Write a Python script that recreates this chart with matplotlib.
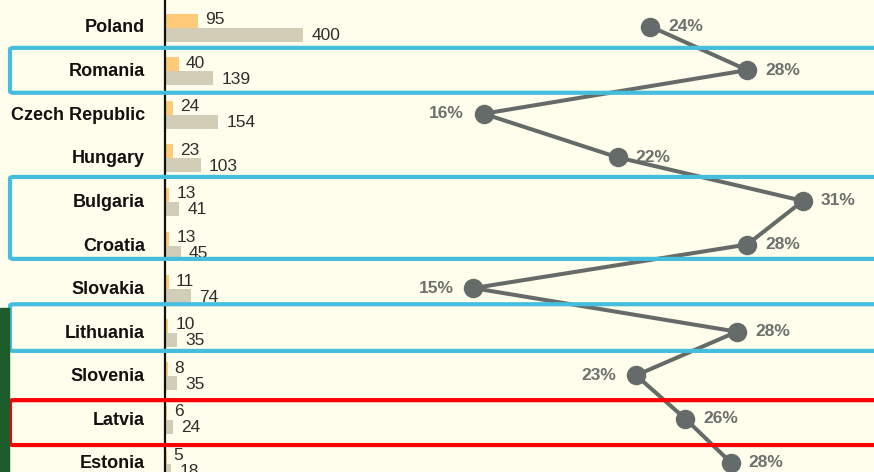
"""
Smaller EU members: two bar series per country plus the share line,
with hand-drawn highlight boxes around selected rows.
"""

import matplotlib
matplotlib.use("Agg")
import matplotlib.pyplot as plt
from matplotlib.patches import FancyBboxPatch, Rectangle


# =============================================================================
# Data
# =============================================================================
COUNTRIES = [
    "Poland", "Romania", "Czech Republic", "Hungary", "Bulgaria", "Croatia",
    "Slovakia", "Lithuania", "Slovenia", "Latvia", "Estonia",
]
VALUE_A = [95, 40, 24, 23, 13, 13, 11, 10, 8, 6, 5]           # orange bars
VALUE_B = [400, 139, 154, 103, 41, 45, 74, 35, 35, 24, 18]     # beige bars
SHARE = [23.6, 28.3, 15.5, 22.0, 31.0, 28.3, 15.0, 27.8, 22.9, 25.3, 27.5]
SHARE_LABELS = ["24%", "28%", "16%", "22%", "31%", "28%",
                "15%", "28%", "23%", "26%", "28%"]

# highlighted rows: (first, last, colour)
HIGHLIGHTS = [
    ("Romania", "Romania", "#45BEDD"),
    ("Bulgaria", "Croatia", "#45BEDD"),
    ("Lithuania", "Lithuania", "#45BEDD"),
    ("Latvia", "Latvia", "#FF0000"),
]

# =============================================================================
# Style / layout
# =============================================================================
W, H, DPI = 874, 472, 100
BG = "#FFFDEC"
C_A = "#FFCB7A"
C_B = "#D2CDB6"
C_LINE = "#646B68"
C_PCT = "#6C716F"
C_TXT = "#2E2E2E"
FONT = "Liberation Sans"

ROW0_PX, ROW_PX = 26.5, 43.6            # first row centre / row pitch (pixels)
AXIS_PX, BAR_PX_PER_UNIT = 165.0, 0.345
LINE_REF_PX, LINE_REF_VAL, LINE_PX_PER_PCT = 473.3, 15.0, 20.6
BOX_PAD = [(0.51, 0.52), (0.55, 0.33), (0.63, 0.44), (0.43, 0.60)]


def main() -> None:
    plt.rcParams["font.family"] = FONT
    fig = plt.figure(figsize=(W / DPI, H / DPI), dpi=DPI, facecolor=BG)

    ax = fig.add_axes([0, 0, 1, 1])
    ax.set_facecolor(BG)
    ax.set_xlim(-AXIS_PX / BAR_PX_PER_UNIT, (W - AXIS_PX) / BAR_PX_PER_UNIT)
    ax.set_ylim((H - ROW0_PX) / ROW_PX, -ROW0_PX / ROW_PX)
    ax.axis("off")

    rows = list(range(len(COUNTRIES)))
    h = 14 / ROW_PX
    off_a, off_b = -6 / ROW_PX, 8 / ROW_PX

    ax.barh([r + off_a for r in rows], VALUE_A, height=h, color=C_A, zorder=2)
    ax.barh([r + off_b for r in rows], VALUE_B, height=h, color=C_B, zorder=2)
    ax.axvline(0, color="#111111", lw=1.6, zorder=3)

    for r, a, b in zip(rows, VALUE_A, VALUE_B):
        ax.annotate(str(a), (a, r + off_a - 1 / ROW_PX), xytext=(5, 0),
                    textcoords="offset points", va="center", ha="left",
                    fontsize=12.5, color=C_TXT)
        ax.annotate(str(b), (b, r + off_b + 1 / ROW_PX), xytext=(6, 0),
                    textcoords="offset points", va="center", ha="left",
                    fontsize=12.5, color=C_TXT)

    ytr = ax.get_yaxis_transform()
    for r, name in zip(rows, COUNTRIES):
        ax.text(145 / W, r + 1.5 / ROW_PX, name, transform=ytr, ha="right",
                va="center", fontsize=13, fontweight="bold", color="#111111")

    # share line on its own x scale
    axl = ax.twiny()
    axl.set_xlim(LINE_REF_VAL - LINE_REF_PX / LINE_PX_PER_PCT,
                 LINE_REF_VAL + (W - LINE_REF_PX) / LINE_PX_PER_PCT)
    axl.axis("off")
    axl.plot(SHARE, rows, "-o", color=C_LINE, lw=2.9, ms=13, zorder=4,
             solid_capstyle="round")

    n = len(SHARE)
    for i, (v, lab) in enumerate(zip(SHARE, SHARE_LABELS)):
        left = 0 < i < n - 1 and v < SHARE[i - 1] and v < SHARE[i + 1]
        axl.annotate(lab, (v, rows[i]), xytext=(-14 if left else 13, 0),
                     textcoords="offset points", va="center",
                     ha="right" if left else "left", fontsize=12.5,
                     fontweight="bold", color=C_PCT)

    # highlight boxes
    ltr = axl.get_yaxis_transform()
    for (first, last, col), (pt, pb) in zip(HIGHLIGHTS, BOX_PAD):
        r0 = COUNTRIES.index(first) - pt
        r1 = COUNTRIES.index(last) + pb
        box = FancyBboxPatch((10 / W, r0), 1.1, r1 - r0,
                             boxstyle="round,pad=0,rounding_size=0.004",
                             transform=ltr, fill=False, edgecolor=col,
                             lw=3.0, zorder=6, clip_on=False,
                             mutation_aspect=10)
        axl.add_patch(box)

    # dark green strip at lower left edge
    fig.patches.append(Rectangle((0, 0), 8.5 / W, (H - 308) / H,
                                 transform=fig.transFigure,
                                 color="#1C5C2B", zorder=10))

    fig.savefig("out.png", dpi=DPI, facecolor=BG)
    plt.close(fig)


if __name__ == "__main__":
    main()
